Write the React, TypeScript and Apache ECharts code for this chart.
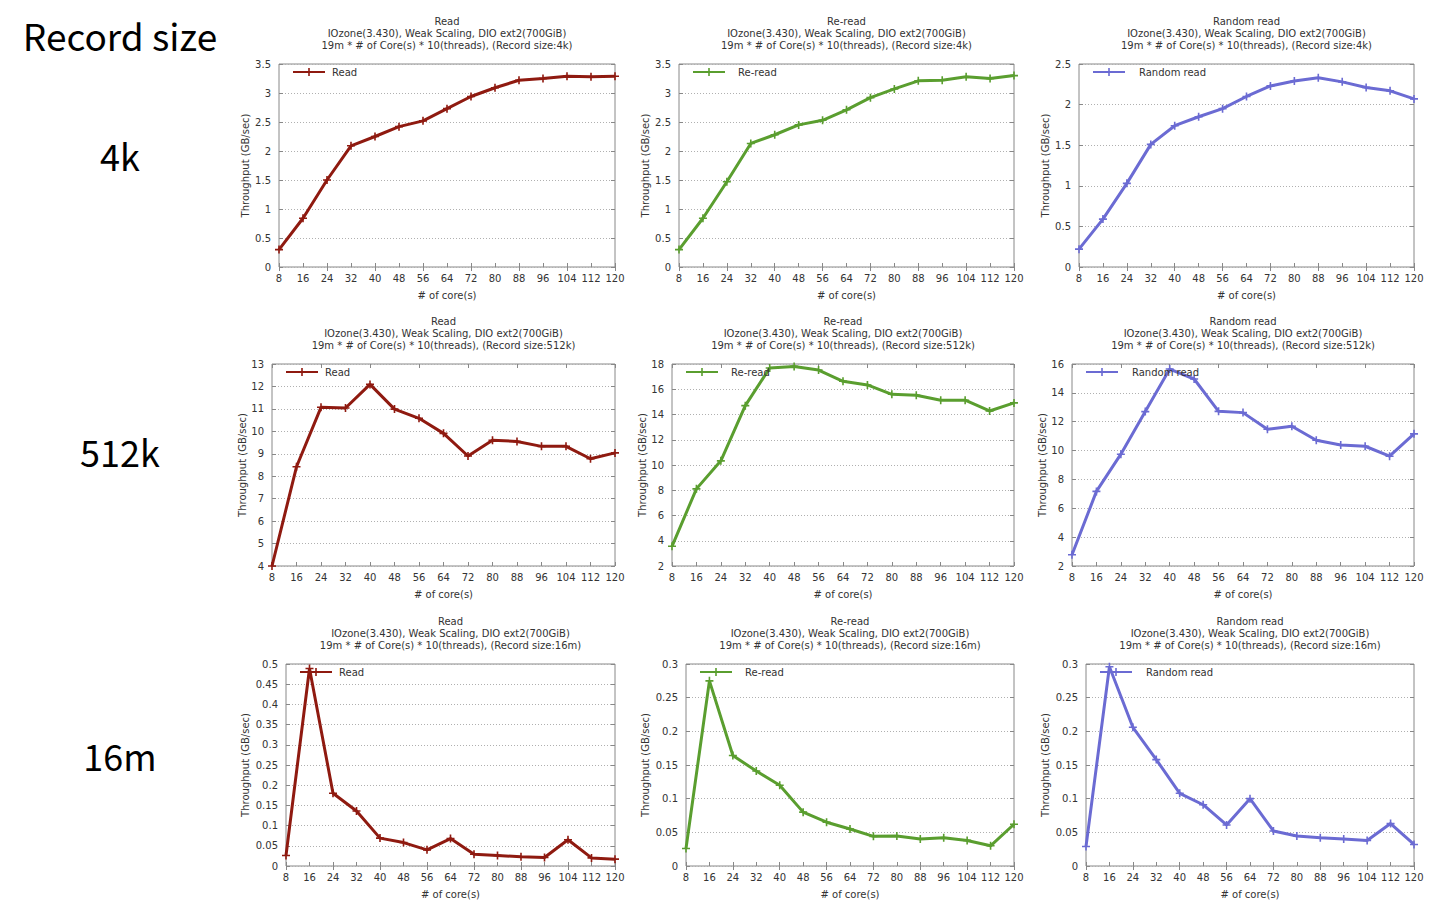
import React, { useEffect, useRef } from "react";
import * as echarts from "echarts";

// ---------- data ----------
const cores = ["8", "16", "24", "32", "40", "48", "56", "64", "72", "80", "88", "96", "104", "112", "120"];

const read4k = [0.3, 0.84, 1.5, 2.09, 2.25, 2.42, 2.52, 2.73, 2.94, 3.09, 3.22, 3.25, 3.29, 3.28, 3.29];
const reread4k = [0.3, 0.84, 1.47, 2.13, 2.28, 2.45, 2.53, 2.71, 2.92, 3.07, 3.21, 3.22, 3.28, 3.25, 3.3];
const random4k = [0.22, 0.59, 1.03, 1.51, 1.74, 1.85, 1.95, 2.1, 2.23, 2.29, 2.33, 2.28, 2.21, 2.17, 2.07];

const read512k = [4.0, 8.42, 11.07, 11.04, 12.09, 10.99, 10.58, 9.91, 8.9, 9.6, 9.55, 9.33, 9.33, 8.78, 9.04];
const reread512k = [3.56, 8.11, 10.33, 14.7, 17.68, 17.81, 17.52, 16.63, 16.34, 15.6, 15.52, 15.13, 15.13, 14.28, 14.92];
const random512k = [2.78, 7.17, 9.75, 12.7, 15.65, 14.96, 12.72, 12.63, 11.48, 11.69, 10.72, 10.39, 10.3, 9.61, 11.16];

const read16m = [0.026, 0.489, 0.18, 0.136, 0.069, 0.058, 0.04, 0.068, 0.029, 0.026, 0.023, 0.021, 0.065, 0.02, 0.017];
const reread16m = [0.026, 0.275, 0.164, 0.141, 0.12, 0.08, 0.065, 0.055, 0.044, 0.0445, 0.04, 0.042, 0.038, 0.03, 0.062];
const random16m = [0.029, 0.296, 0.206, 0.158, 0.108, 0.091, 0.061, 0.1, 0.052, 0.0445, 0.042, 0.04, 0.038, 0.063, 0.032];

const seriesNames = ["Read", "Re-read", "Random read"];
const recordSizes = ["4k", "512k", "16m"];
const seriesData = [
  [read4k, reread4k, random4k],
  [read512k, reread512k, random512k],
  [read16m, reread16m, random16m],
];
const yMins = [
  [0, 0, 0],
  [4, 2, 2],
  [0, 0, 0],
];
const yMaxs = [
  [3.5, 3.5, 2.5],
  [13, 18, 16],
  [0.5, 0.3, 0.3],
];
const ySteps = [
  [0.5, 0.5, 0.5],
  [1, 2, 2],
  [0.05, 0.05, 0.05],
];

const subtitle1 = "IOzone(3.430), Weak Scaling, DIO ext2(700GiB)";
const subtitle2Prefix = "19m * # of Core(s) * 10(threads), (Record size:";
const xName = "# of core(s)";
const yName = "Throughput (GB/sec)";
const leftHeader = "Record size";

// ---------- styles / layout ----------
const colors = ["#8f1a10", "#5a9e2f", "#6b6bd3"];
const FONT = "DejaVu Sans";
const TEXT = "#333";
const BORDER = "#888";
const rowTops = [64, 364, 664];
const rowHeights = [203, 202, 202];
const colLefts = [
  [279, 679, 1079],
  [272, 672, 1072],
  [286, 686, 1086],
];
const colRights = [615, 1014, 1414];
const yNameGaps = [29, 22, 36];
const legendTextPad = [2, 8, 9];
const rowLabelY = [155, 451, 755];

const plusSymbol = "path://M4,0H6V4H10V6H6V10H4V6H0V4H4Z";

function buildOption() {
  const grid: any[] = [];
  const xAxis: any[] = [];
  const yAxis: any[] = [];
  const xMirror: any[] = [];
  const yMirror: any[] = [];
  const series: any[] = [];
  const title: any[] = [];
  const legend: any[] = [];

  for (let r = 0; r < 3; r++) {
    for (let c = 0; c < 3; c++) {
      const i = r * 3 + c;
      const left = colLefts[r][c];
      const width = colRights[c] - left;
      const top = rowTops[r];
      const height = rowHeights[r];
      grid.push({ left, top, width, height, show: true, borderColor: BORDER, borderWidth: 1, backgroundColor: "transparent" });
      xAxis.push({
        type: "category",
        gridIndex: i,
        data: cores,
        boundaryGap: false,
        axisLine: { show: false },
        axisTick: { show: true, inside: true, length: 4, lineStyle: { color: BORDER } },
        axisLabel: { interval: 0, color: TEXT, fontSize: 10, fontFamily: FONT, margin: 6 },
        splitLine: { show: false },
        name: xName,
        nameLocation: "middle",
        nameGap: 23,
        nameTextStyle: { color: TEXT, fontSize: 10, fontFamily: FONT },
      });
      xMirror.push({
        type: "category",
        gridIndex: i,
        position: "top",
        data: cores,
        boundaryGap: false,
        axisLine: { show: false },
        axisTick: { show: true, inside: true, length: 4, lineStyle: { color: BORDER } },
        axisLabel: { show: false },
        splitLine: { show: false },
      });
      yAxis.push({
        type: "value",
        gridIndex: i,
        min: yMins[r][c],
        max: yMaxs[r][c],
        interval: ySteps[r][c],
        axisLine: { show: false },
        axisTick: { show: true, inside: true, length: 4, lineStyle: { color: BORDER } },
        axisLabel: { color: TEXT, fontSize: 10, fontFamily: FONT, margin: 8 },
        splitLine: { show: true, lineStyle: { color: "#b0b0b0", type: [1, 2], width: 1 } },
        name: yName,
        nameLocation: "middle",
        nameGap: yNameGaps[r],
        nameTextStyle: { color: TEXT, fontSize: 10, fontFamily: FONT },
      });
      yMirror.push({
        type: "value",
        gridIndex: i,
        position: "right",
        min: yMins[r][c],
        max: yMaxs[r][c],
        interval: ySteps[r][c],
        axisLine: { show: false },
        axisTick: { show: true, inside: true, length: 4, lineStyle: { color: BORDER } },
        axisLabel: { show: false },
        splitLine: { show: false },
      });
      series.push({
        type: "line",
        name: seriesNames[c],
        xAxisIndex: i,
        yAxisIndex: i,
        data: seriesData[r][c],
        symbol: plusSymbol,
        symbolSize: 8,
        showSymbol: true,
        lineStyle: { width: 3, color: colors[c] },
        itemStyle: { color: colors[c] },
        emphasis: { disabled: true },
      });
      title.push({
        text: `${seriesNames[c]}\n${subtitle1}\n${subtitle2Prefix}${recordSizes[r]})`,
        left: left + width / 2,
        top: 15 + 300 * r,
        textAlign: "center",
        padding: 0,
        textStyle: { color: TEXT, fontSize: 10, fontWeight: "normal", fontFamily: FONT, lineHeight: 12 },
      });
      legend.push({
        data: [seriesNames[c]],
        left: left + 13,
        top: top + 8 - 5,
        padding: 0,
        itemWidth: 32,
        itemHeight: 10,
        selectedMode: false,
        textStyle: { color: TEXT, fontSize: 10, fontFamily: FONT, padding: [0, 0, 0, legendTextPad[c]] },
      });
    }
  }

  const graphic: any[] = [
    {
      type: "text",
      x: 120,
      y: 35,
      style: { text: leftHeader, fill: "#000", fontSize: 37, fontFamily: "Noto Sans CJK KR", textAlign: "center", textVerticalAlign: "middle" },
    },
  ];
  recordSizes.forEach((s, r) => {
    graphic.push({
      type: "text",
      x: 120,
      y: rowLabelY[r],
      style: { text: s, fill: "#000", fontSize: 36, fontFamily: "Noto Sans CJK KR", textAlign: "center", textVerticalAlign: "middle" },
    });
  });

  return {
    animation: false,
    backgroundColor: "#fff",
    title,
    legend,
    grid,
    xAxis: [...xAxis, ...xMirror],
    yAxis: [...yAxis, ...yMirror],
    series,
    graphic,
  };
}

export default function App() {
  const ref = useRef<HTMLDivElement>(null);
  useEffect(() => {
    if (!ref.current) return;
    const chart = echarts.init(ref.current, undefined, { renderer: "svg" });
    chart.setOption(buildOption() as any);
    return () => chart.dispose();
  }, []);
  return <div ref={ref} style={{ position: "absolute", left: 0, top: 0, width: 1435, height: 905 }} />;
}
